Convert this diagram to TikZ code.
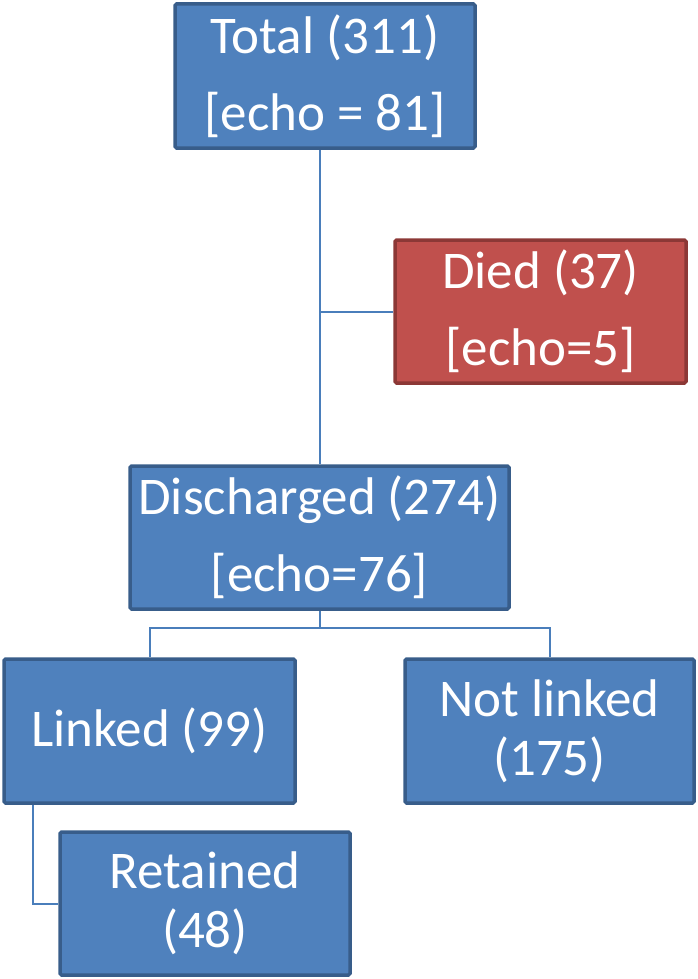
\documentclass[tikz,border=0pt]{standalone}
\usepackage{fontspec}
\setmainfont{Carlito}
\definecolor{bfill}{RGB}{79,129,189}
\definecolor{bdraw}{RGB}{56,93,138}
\definecolor{rfill}{RGB}{192,80,77}
\definecolor{rdraw}{RGB}{140,56,54}
\definecolor{conn}{RGB}{74,126,187}
\tikzset{
  box/.style={rectangle, fill=bfill, draw=bdraw, line width=3.5pt, rounded corners=1.5pt,
    text=white, align=center, inner sep=0pt,
    font=\fontsize{53}{59}\selectfont},
  redbox/.style={box, fill=rfill, draw=rdraw},
  link/.style={draw=conn, line width=2pt}
}
\begin{document}
\begin{tikzpicture}[x=1pt, y=-1pt]
\useasboundingbox (0,0) rectangle (697,979);
\node[box, minimum width=300pt, minimum height=144pt] (total) at (325,76) {Total (311)\\[18pt][echo = 81]};
\node[redbox, minimum width=291pt, minimum height=143pt] (died) at (540.5,311.5) {Died (37)\\[18pt][echo=5]};
\node[box, minimum width=379pt, minimum height=143pt] (disch) at (319.5,537.5) {Discharged (274)\\[18pt][echo=76]};
\node[box, minimum width=291pt, minimum height=144pt] (linked) at (149.5,731) {Linked (99)};
\node[box, minimum width=289pt, minimum height=144pt] (notlinked) at (549.5,731) {Not linked\\(175)};
\node[box, minimum width=290pt, minimum height=143pt] (retained) at (205,903.5) {Retained\\(48)};
\draw[link] (total.south -| disch.north) -- (disch.north);
\draw[link] (died.west) -- (died.west -| disch.north);
\draw[link] (disch.south) -- ++(0,17) coordinate (br) -| (linked.north);
\draw[link] (br) -| (notlinked.north);
\draw[link] ([xshift=-116.5pt]linked.south) |- (retained.west);
\end{tikzpicture}
\end{document}
